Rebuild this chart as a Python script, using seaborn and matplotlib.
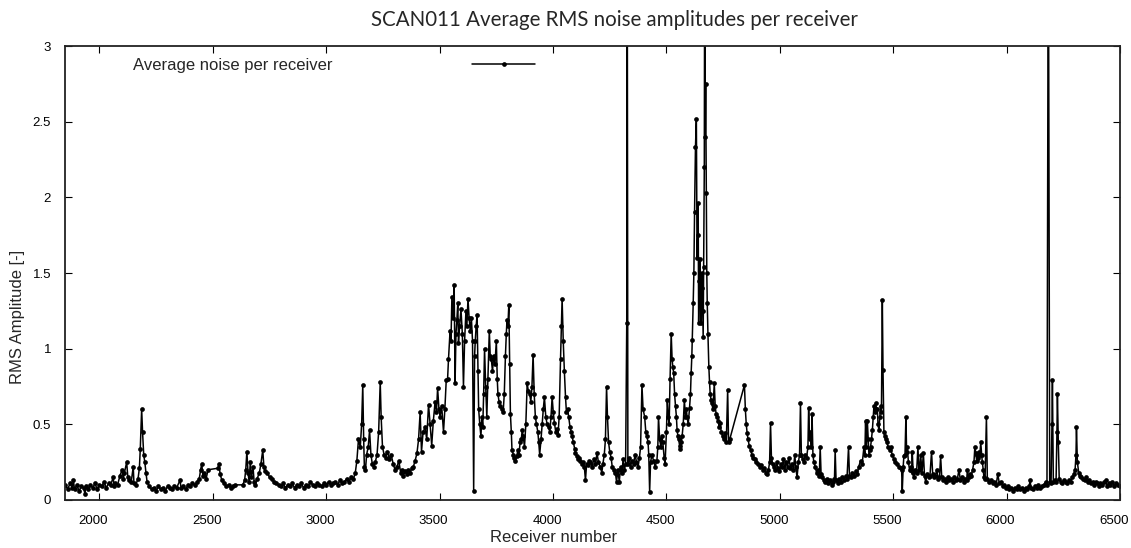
import matplotlib
matplotlib.use('Agg')
import matplotlib.pyplot as plt
import matplotlib.transforms as mtransforms
import seaborn as sns
import pandas as pd

# Receiver number / average RMS amplitude
seg_west = [
    (1850, 0.10), (1860, 0.07), (1870, 0.11), (1880, 0.08), (1885, 0.13), (1890, 0.07), (1900, 0.10),
    (1910, 0.06), (1920, 0.09), (1930, 0.08), (1936, 0.04), (1940, 0.09), (1950, 0.07), (1960, 0.10),
    (1970, 0.08), (1980, 0.11), (1990, 0.07), (2000, 0.10), (2010, 0.09), (2020, 0.12), (2030, 0.08),
    (2040, 0.11), (2050, 0.10), (2060, 0.15), (2065, 0.09), (2070, 0.11), (2080, 0.10), (2090, 0.16),
    (2100, 0.20), (2105, 0.14), (2110, 0.18), (2120, 0.25), (2125, 0.15), (2130, 0.13), (2140, 0.12),
    (2149, 0.22), (2152, 0.11), (2160, 0.10), (2170, 0.14), (2176, 0.21), (2180, 0.34), (2186, 0.60),
    (2190, 0.45), (2195, 0.30), (2200, 0.25), (2205, 0.18), (2210, 0.12), (2220, 0.09), (2230, 0.07),
    (2240, 0.08), (2250, 0.06), (2260, 0.09), (2270, 0.07), (2280, 0.08), (2290, 0.06), (2300, 0.09),
    (2310, 0.08), (2320, 0.07), (2330, 0.09), (2340, 0.08), (2355, 0.13), (2360, 0.08), (2370, 0.09),
    (2380, 0.07), (2390, 0.10), (2400, 0.09), (2410, 0.11), (2420, 0.10), (2430, 0.12), (2440, 0.14),
    (2446, 0.20), (2451, 0.24), (2456, 0.16), (2462, 0.18), (2470, 0.14), (2479, 0.20), (2523, 0.21),
    (2527, 0.24), (2532, 0.17), (2540, 0.13), (2550, 0.11), (2560, 0.09), (2570, 0.10), (2580, 0.08),
    (2590, 0.09), (2598, 0.10), (2632, 0.10), (2640, 0.13), (2645, 0.20), (2650, 0.32), (2655, 0.18),
    (2660, 0.12), (2665, 0.25), (2670, 0.15), (2677, 0.22), (2682, 0.12), (2688, 0.10), (2695, 0.14),
    (2705, 0.18), (2712, 0.24), (2720, 0.33), (2725, 0.22), (2730, 0.19), (2740, 0.18), (2750, 0.15),
    (2760, 0.14), (2770, 0.12), (2780, 0.11), (2790, 0.10), (2800, 0.09), (2810, 0.11), (2820, 0.08),
    (2830, 0.10), (2840, 0.09), (2850, 0.11), (2860, 0.08), (2870, 0.10), (2880, 0.09), (2890, 0.11),
    (2900, 0.08), (2910, 0.10), (2920, 0.09), (2930, 0.12), (2940, 0.10), (2950, 0.09), (2960, 0.11),
    (2970, 0.10), (2980, 0.09), (2990, 0.11), (3000, 0.10), (3010, 0.12), (3020, 0.10), (3030, 0.11),
    (3040, 0.12), (3050, 0.10), (3060, 0.13), (3070, 0.11), (3080, 0.12), (3090, 0.14), (3100, 0.12),
    (3110, 0.15), (3120, 0.14),
]

seg_central = [
    (3128, 0.18), (3135, 0.26), (3142, 0.40), (3150, 0.35), (3156, 0.50), (3161, 0.76), (3165, 0.40),
    (3168, 0.22), (3173, 0.20), (3178, 0.30), (3185, 0.35), (3191, 0.46), (3197, 0.30), (3203, 0.24),
    (3209, 0.22), (3216, 0.25), (3224, 0.30), (3231, 0.45), (3238, 0.78), (3242, 0.55), (3248, 0.35),
    (3255, 0.30), (3262, 0.28), (3270, 0.32), (3278, 0.27), (3286, 0.30), (3295, 0.24), (3303, 0.20),
    (3312, 0.22), (3320, 0.26), (3328, 0.18), (3335, 0.20), (3340, 0.16), (3348, 0.19), (3355, 0.17),
    (3362, 0.20), (3370, 0.18), (3377, 0.21), (3384, 0.22), (3392, 0.26), (3400, 0.31), (3407, 0.40),
    (3414, 0.58), (3420, 0.32), (3427, 0.45), (3436, 0.48), (3443, 0.40), (3451, 0.63), (3458, 0.50),
    (3465, 0.36), (3472, 0.52), (3480, 0.65), (3486, 0.58), (3491, 0.74), (3497, 0.60), (3502, 0.55),
    (3509, 0.62), (3517, 0.45), (3523, 0.60), (3529, 0.79), (3535, 0.80), (3539, 0.93), (3546, 1.12),
    (3550, 1.05), (3554, 1.34), (3559, 1.20), (3564, 1.42), (3568, 0.77), (3572, 1.10), (3576, 1.19),
    (3580, 1.30), (3583, 1.04), (3588, 1.15), (3594, 1.26), (3600, 1.10), (3605, 0.75), (3610, 1.05),
    (3616, 1.25), (3620, 1.15), (3625, 1.33), (3630, 1.20), (3635, 1.12), (3640, 1.20), (3645, 1.05),
    (3650, 0.06), (3654, 0.95), (3657, 1.05), (3661, 1.15), (3665, 1.22), (3669, 0.85), (3672, 0.60),
    (3677, 0.50), (3682, 0.42), (3686, 0.55), (3690, 0.48), (3694, 0.70), (3698, 1.00), (3703, 0.75),
    (3708, 0.55), (3713, 0.80), (3719, 1.12), (3723, 0.95), (3728, 0.93), (3733, 0.85), (3738, 0.95),
    (3744, 0.90), (3750, 1.05), (3754, 0.80), (3757, 0.70), (3762, 0.65), (3768, 0.62), (3774, 0.60),
    (3780, 0.58), (3785, 0.70), (3790, 0.95), (3794, 1.10), (3797, 1.19), (3801, 1.15), (3805, 1.29),
    (3809, 0.90), (3812, 0.57), (3816, 0.45), (3819, 0.33), (3825, 0.30), (3830, 0.28), (3834, 0.26),
    (3840, 0.29), (3845, 0.33), (3849, 0.30), (3855, 0.38), (3860, 0.40), (3864, 0.46), (3869, 0.42),
    (3874, 0.35), (3880, 0.50), (3886, 0.77), (3891, 0.72), (3897, 0.70), (3902, 0.65), (3907, 0.75),
    (3912, 0.96), (3917, 0.70), (3922, 0.55), (3927, 0.50), (3933, 0.45), (3937, 0.38), (3941, 0.30),
    (3947, 0.40), (3952, 0.50), (3957, 0.60), (3962, 0.68), (3968, 0.55), (3974, 0.50), (3980, 0.48),
    (3986, 0.45), (3991, 0.55), (3996, 0.68), (4001, 0.58), (4006, 0.51), (4012, 0.45), (4018, 0.47),
    (4022, 0.43), (4027, 0.55), (4033, 0.93), (4037, 1.15), (4040, 1.33), (4045, 1.05), (4050, 0.85),
    (4055, 0.68), (4059, 0.58), (4064, 0.60), (4069, 0.55), (4075, 0.48), (4080, 0.45), (4084, 0.42),
    (4090, 0.38), (4095, 0.34), (4099, 0.31), (4105, 0.29), (4110, 0.27), (4116, 0.28), (4121, 0.26),
    (4127, 0.24), (4133, 0.25), (4138, 0.22), (4143, 0.13), (4148, 0.24), (4155, 0.23), (4160, 0.26),
    (4165, 0.25), (4172, 0.22), (4180, 0.27), (4187, 0.24), (4194, 0.31), (4200, 0.25), (4208, 0.22),
    (4215, 0.18), (4220, 0.24), (4226, 0.30), (4231, 0.40), (4236, 0.75), (4240, 0.55), (4245, 0.38),
    (4250, 0.32), (4256, 0.28), (4261, 0.22), (4268, 0.20), (4275, 0.18), (4280, 0.12), (4286, 0.20),
    (4292, 0.12), (4298, 0.22), (4304, 0.18), (4309, 0.27), (4315, 0.20), (4320, 0.24), (4325, 1.17),
    (4327, 4.00), (4330, 0.24),
]

seg_east = [
    (4336, 0.28), (4342, 0.22), (4348, 0.26), (4355, 0.24), (4362, 0.30), (4368, 0.25), (4375, 0.22),
    (4381, 0.28), (4386, 0.35), (4392, 0.76), (4397, 0.60), (4404, 0.55), (4409, 0.45), (4414, 0.42),
    (4419, 0.38), (4422, 0.30), (4426, 0.055), (4430, 0.25), (4436, 0.30), (4443, 0.26), (4450, 0.22),
    (4458, 0.26), (4462, 0.35), (4465, 0.55), (4470, 0.40), (4476, 0.35), (4480, 0.42), (4484, 0.38),
    (4490, 0.28), (4494, 0.24), (4500, 0.45), (4504, 0.66), (4508, 0.55), (4512, 0.50), (4516, 0.80),
    (4521, 1.10), (4525, 0.93), (4528, 0.88), (4532, 0.84), (4536, 0.70), (4540, 0.62), (4544, 0.55),
    (4547, 0.46), (4551, 0.42), (4554, 0.40), (4558, 0.36), (4562, 0.34), (4566, 0.38), (4569, 0.42),
    (4574, 0.50), (4579, 0.66), (4584, 0.55), (4588, 0.60), (4591, 0.55), (4596, 0.50), (4602, 0.61),
    (4606, 0.70), (4609, 0.84), (4612, 0.95), (4614, 1.06), (4618, 1.30), (4621, 1.50), (4624, 1.90),
    (4628, 2.33), (4632, 2.52), (4635, 1.60), (4638, 1.75), (4640, 1.96), (4642, 1.17), (4645, 1.45),
    (4647, 1.59), (4650, 1.35), (4653, 1.17), (4655, 1.40), (4657, 1.50), (4660, 1.25), (4662, 1.08),
    (4664, 1.54), (4667, 2.20), (4669, 4.00), (4671, 2.40), (4673, 2.75), (4676, 2.03), (4678, 1.50),
    (4680, 1.30), (4683, 1.10), (4687, 0.88), (4690, 0.78), (4693, 0.70), (4697, 0.66), (4700, 0.64),
    (4705, 0.60), (4711, 0.77), (4715, 0.62), (4719, 0.57), (4724, 0.55), (4729, 0.52), (4733, 0.48),
    (4736, 0.51), (4742, 0.45), (4748, 0.42), (4753, 0.40), (4759, 0.44), (4764, 0.38), (4770, 0.73),
    (4774, 0.38), (4779, 0.40), (4844, 0.76), (4848, 0.60), (4852, 0.50), (4856, 0.44), (4860, 0.40),
    (4865, 0.36), (4871, 0.33), (4877, 0.30), (4883, 0.28), (4890, 0.27), (4897, 0.25), (4904, 0.24),
    (4911, 0.22), (4918, 0.23), (4925, 0.20), (4932, 0.21), (4939, 0.18), (4945, 0.17), (4950, 0.20),
    (4955, 0.25), (4959, 0.51), (4963, 0.28), (4968, 0.24), (4974, 0.22), (4980, 0.20), (4986, 0.25),
    (4992, 0.21), (4998, 0.19), (5004, 0.24), (5010, 0.22), (5016, 0.27), (5022, 0.20), (5028, 0.25),
    (5034, 0.22), (5040, 0.28), (5047, 0.21), (5054, 0.24), (5060, 0.20), (5066, 0.30), (5070, 0.22),
    (5076, 0.15), (5082, 0.25), (5087, 0.30), (5091, 0.64), (5095, 0.30), (5100, 0.27), (5106, 0.25),
    (5112, 0.30), (5118, 0.28), (5124, 0.35), (5127, 0.61), (5131, 0.40), (5135, 0.45), (5139, 0.35),
    (5142, 0.57), (5146, 0.30), (5150, 0.25), (5156, 0.22), (5162, 0.18), (5168, 0.20), (5174, 0.16),
    (5178, 0.35), (5182, 0.17), (5188, 0.15), (5194, 0.13), (5200, 0.12), (5207, 0.14), (5214, 0.11),
    (5221, 0.13), (5228, 0.10), (5235, 0.12), (5241, 0.14), (5244, 0.33), (5248, 0.13), (5255, 0.11),
    (5262, 0.14), (5269, 0.12), (5276, 0.15), (5283, 0.13), (5290, 0.16), (5296, 0.14), (5303, 0.35),
    (5307, 0.16),
]

seg_far_east = [
    (5312, 0.15), (5320, 0.18), (5327, 0.16), (5334, 0.19), (5341, 0.17), (5348, 0.22), (5356, 0.26),
    (5363, 0.24), (5371, 0.35), (5375, 0.30), (5378, 0.52), (5382, 0.35), (5386, 0.52), (5390, 0.40),
    (5393, 0.30), (5397, 0.33), (5400, 0.35), (5404, 0.40), (5408, 0.46), (5412, 0.55), (5415, 0.62),
    (5419, 0.58), (5422, 0.64), (5426, 0.60), (5430, 0.60), (5433, 0.50), (5437, 0.46), (5441, 0.55),
    (5444, 0.62), (5448, 0.58), (5452, 1.32), (5455, 0.86), (5459, 0.45), (5463, 0.42), (5467, 0.40),
    (5472, 0.38), (5478, 0.35), (5484, 0.33), (5489, 0.35), (5495, 0.30), (5503, 0.27), (5510, 0.25),
    (5518, 0.24), (5525, 0.22), (5533, 0.21), (5537, 0.20), (5540, 0.06), (5544, 0.22), (5547, 0.29),
    (5552, 0.30), (5556, 0.55), (5559, 0.32), (5562, 0.35), (5567, 0.25), (5572, 0.20), (5577, 0.22),
    (5581, 0.19), (5584, 0.32), (5588, 0.18), (5591, 0.15), (5597, 0.20), (5603, 0.18), (5609, 0.35),
    (5613, 0.20), (5617, 0.22), (5621, 0.30), (5627, 0.18), (5633, 0.31), (5638, 0.16), (5643, 0.12),
    (5650, 0.17), (5656, 0.15), (5662, 0.16), (5669, 0.32), (5674, 0.17), (5680, 0.15), (5686, 0.16),
    (5692, 0.20), (5698, 0.14), (5704, 0.15), (5709, 0.29), (5714, 0.15), (5720, 0.13), (5727, 0.14),
    (5734, 0.12), (5741, 0.15), (5748, 0.13), (5755, 0.14), (5762, 0.12), (5769, 0.15), (5776, 0.13),
    (5783, 0.14), (5790, 0.20), (5796, 0.13), (5803, 0.15), (5810, 0.12), (5817, 0.14), (5824, 0.13),
    (5827, 0.20), (5832, 0.15), (5838, 0.17), (5844, 0.16), (5850, 0.20), (5856, 0.25), (5860, 0.35),
    (5864, 0.31), (5868, 0.26), (5871, 0.30), (5875, 0.28), (5878, 0.32), (5882, 0.30), (5886, 0.38),
    (5890, 0.30), (5893, 0.25), (5897, 0.20), (5900, 0.15), (5905, 0.14), (5911, 0.55), (5915, 0.14),
    (5922, 0.12), (5930, 0.13), (5938, 0.11), (5946, 0.12), (5954, 0.10), (5961, 0.17), (5968, 0.11),
    (5975, 0.12), (5982, 0.09), (5989, 0.10), (5996, 0.08), (6004, 0.09), (6012, 0.07), (6020, 0.08),
    (6028, 0.06), (6036, 0.08), (6044, 0.07), (6052, 0.09), (6060, 0.07), (6068, 0.08), (6076, 0.06),
    (6084, 0.08), (6092, 0.07), (6100, 0.09), (6103, 0.13), (6108, 0.08), (6116, 0.07), (6124, 0.09),
    (6132, 0.08), (6140, 0.10), (6148, 0.08), (6156, 0.09), (6164, 0.10), (6172, 0.12), (6178, 0.10),
    (6184, 4.00), (6190, 0.12), (6196, 0.11), (6200, 0.50), (6202, 0.79), (6206, 0.12), (6212, 0.13),
    (6218, 0.12), (6222, 0.45), (6224, 0.70), (6228, 0.38), (6232, 0.14), (6239, 0.12), (6246, 0.11),
    (6253, 0.13), (6260, 0.12), (6268, 0.11), (6275, 0.13), (6283, 0.12), (6290, 0.15), (6296, 0.17),
    (6302, 0.20), (6306, 0.30), (6308, 0.48), (6312, 0.25), (6318, 0.18), (6324, 0.16), (6330, 0.15),
    (6337, 0.14), (6344, 0.13), (6351, 0.15), (6358, 0.12), (6365, 0.13), (6372, 0.11), (6379, 0.12),
    (6386, 0.10), (6393, 0.12), (6400, 0.11), (6407, 0.09), (6414, 0.11), (6421, 0.10), (6428, 0.12),
    (6437, 0.13), (6442, 0.09), (6450, 0.11), (6458, 0.10), (6466, 0.12), (6474, 0.09), (6482, 0.11),
    (6490, 0.10), (6500, 0.09),
]

x_ticks = [2000, 2500, 3000, 3500, 4000, 4500, 5000, 5500, 6000, 6500]
y_ticks = [0, 0.5, 1, 1.5, 2, 2.5, 3]

sns.set_style("ticks")
plt.rcParams['font.family'] = ['Liberation Sans', 'DejaVu Sans']
plt.rcParams['xtick.direction'] = 'in'
plt.rcParams['ytick.direction'] = 'in'

df = pd.DataFrame(seg_west + seg_central + seg_east + seg_far_east,
                  columns=['receiver', 'rms'])

fig = plt.figure(figsize=(11.31, 5.48), dpi=100)
ax = fig.add_axes([65 / 1131, 48 / 548, 1055 / 1131, 454 / 548])

sns.lineplot(data=df, x='receiver', y='rms', ax=ax, sort=False, estimator=None,
             color='black', linewidth=1.1, marker='o', markersize=3.4,
             markeredgewidth=0, label='Average noise per receiver')

ax.set_xlim(1848, 6500)
ax.set_ylim(0, 3)
ax.set_xticks(x_ticks)
ax.set_yticks(y_ticks)
ax.set_yticklabels([f'{v:g}' for v in y_ticks])
ax.set_xlabel('')
ax.set_ylabel('')
ax.tick_params(top=True, right=True, length=5, width=0.8, labelsize=9.5, colors='black')
ax.tick_params(axis='x', pad=11)
ax.tick_params(axis='y', pad=10)
for sp in ax.spines.values():
    sp.set_linewidth(1.3)
    sp.set_color('#222222')

# the original tick labels sit a little left of their ticks
shift = mtransforms.ScaledTranslation(-6 / 100, 0, fig.dpi_scale_trans)
for lab in ax.get_xticklabels():
    lab.set_transform(lab.get_transform() + shift)

leg = ax.legend(loc='upper left', bbox_to_anchor=(0.064, 0.974), frameon=False,
                markerfirst=False, handlelength=3.8, handletextpad=8.4,
                borderpad=0, borderaxespad=0, fontsize=12)

fig.text(614 / 1131, 1 - 20 / 548, 'SCAN011 Average RMS noise amplitudes per receiver',
         ha='center', va='center', fontsize=14.8, family=['Lato', 'DejaVu Sans'])
fig.text(554 / 1131, 1 - 537 / 548, 'Receiver number', ha='center', va='center', fontsize=12)
fig.text(18 / 1131, 1 - 317 / 548, 'RMS Amplitude [-]', ha='center', va='center',
         rotation=90, fontsize=12)

fig.savefig('out.png', dpi=100, facecolor='white')
